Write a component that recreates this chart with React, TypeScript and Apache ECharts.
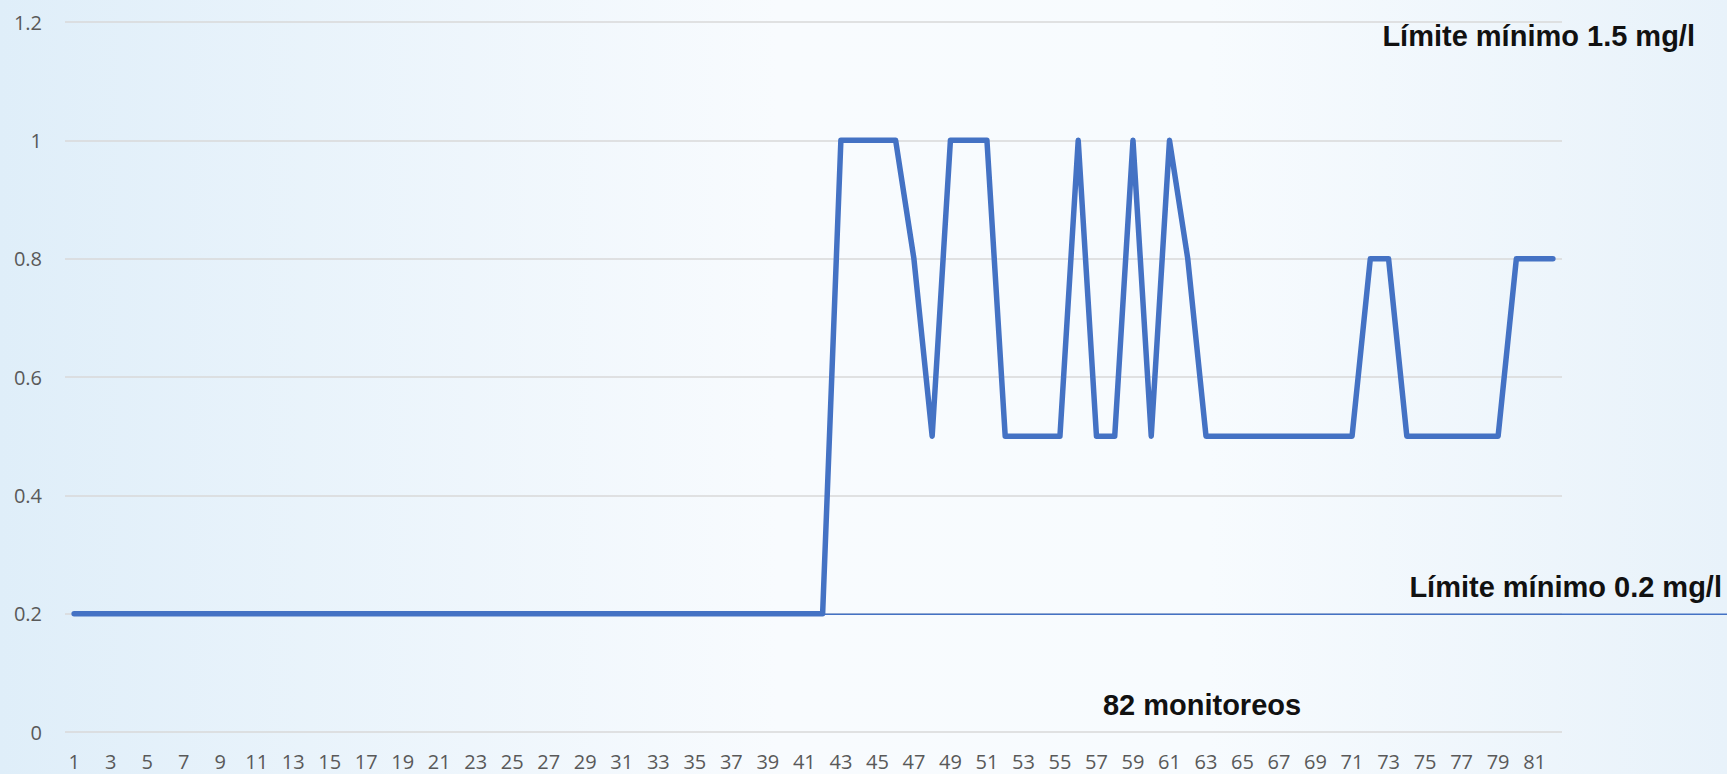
import React, { useEffect, useRef } from "react";
import * as echarts from "echarts";

const categories: string[] = [
  "1","2","3","4","5","6","7","8","9","10",
  "11","12","13","14","15","16","17","18","19","20",
  "21","22","23","24","25","26","27","28","29","30",
  "31","32","33","34","35","36","37","38","39","40",
  "41","42","43","44","45","46","47","48","49","50",
  "51","52","53","54","55","56","57","58","59","60",
  "61","62","63","64","65","66","67","68","69","70",
  "71","72","73","74","75","76","77","78","79","80",
  "81","82",
];

const values: number[] = [
  0.2,0.2,0.2,0.2,0.2,0.2,0.2,0.2,0.2,0.2,
  0.2,0.2,0.2,0.2,0.2,0.2,0.2,0.2,0.2,0.2,
  0.2,0.2,0.2,0.2,0.2,0.2,0.2,0.2,0.2,0.2,
  0.2,0.2,0.2,0.2,0.2,0.2,0.2,0.2,0.2,0.2,
  0.2,0.2,1,1,1,1,0.8,0.5,1,1,
  1,0.5,0.5,0.5,0.5,1,0.5,0.5,1,0.5,
  1,0.8,0.5,0.5,0.5,0.5,0.5,0.5,0.5,0.5,
  0.5,0.8,0.8,0.5,0.5,0.5,0.5,0.5,0.5,0.8,
  0.8,0.8,
];

const minLimit = 0.2;
const yTicks = { min: 0, max: 1.2, interval: 0.2 };
const noteTop = "Límite mínimo 1.5 mg/l";
const noteLimit = "Límite mínimo 0.2 mg/l";
const noteCount = "82 monitoreos";

export default function App() {
  const ref = useRef<HTMLDivElement>(null);

  useEffect(() => {
    if (!ref.current) return;
    const chart = echarts.init(ref.current, undefined, { renderer: "svg" });
    const labelFont = '"Open Sans", "DejaVu Sans", sans-serif';
    const noteFont = '"Liberation Sans", Arial, sans-serif';
    chart.setOption({
      animation: false,
      backgroundColor: {
        type: "linear",
        x: 0, y: 0, x2: 1, y2: 0,
        colorStops: [
          { offset: 0, color: "#dfeef9" },
          { offset: 0.45, color: "#f8fbfe" },
          { offset: 0.7, color: "#f7fbfe" },
          { offset: 1, color: "#e8f2fa" },
        ],
      },
      grid: { left: 65, right: 165, top: 22, bottom: 42, containLabel: false },
      xAxis: {
        type: "category",
        data: categories,
        boundaryGap: true,
        axisLine: { show: false },
        axisTick: { show: false },
        axisLabel: {
          interval: 1,
          color: "#595959",
          fontFamily: labelFont,
          fontSize: 20,
          margin: 19,
        },
        splitLine: { show: false },
      },
      yAxis: {
        type: "value",
        min: yTicks.min,
        max: yTicks.max,
        interval: yTicks.interval,
        axisLine: { show: false },
        axisTick: { show: false },
        axisLabel: {
          color: "#595959",
          fontFamily: labelFont,
          fontSize: 20,
          margin: 23,
          formatter: (v: number) => String(Math.round(v * 10) / 10),
        },
        splitLine: { lineStyle: { color: "#d9d9d9", width: 1.5 } },
      },
      series: [
        {
          type: "line",
          data: values,
          symbol: "none",
          lineStyle: { color: "#4472C4", width: 5.5, join: "round", cap: "round" },
          z: 3,
        },
      ],
    });

    const y02 = chart.convertToPixel({ yAxisIndex: 0 }, minLimit) as number;
    const xStart = chart.convertToPixel({ xAxisIndex: 0 }, categories[0]) as number;
    const W = chart.getWidth();

    chart.setOption({
      graphic: [
        {
          type: "line",
          z: 2,
          shape: { x1: xStart, y1: y02 + 0.5, x2: W, y2: y02 + 0.5 },
          style: { stroke: "#4472C4", lineWidth: 1.5 },
        },
        {
          type: "text",
          x: 1695,
          y: 36,
          style: {
            text: noteTop,
            font: `bold 29px ${noteFont}`,
            fill: "#111111",
            align: "right",
            verticalAlign: "middle",
          },
        },
        {
          type: "text",
          x: 1722,
          y: y02 - 27,
          style: {
            text: noteLimit,
            font: `bold 29px ${noteFont}`,
            fill: "#111111",
            align: "right",
            verticalAlign: "middle",
          },
        },
        {
          type: "text",
          x: 1202,
          y: 705,
          style: {
            text: noteCount,
            font: `bold 29px ${noteFont}`,
            fill: "#111111",
            align: "center",
            verticalAlign: "middle",
          },
        },
      ],
    });

    return () => chart.dispose();
  }, []);

  return (
    <div
      ref={ref}
      style={{ position: "fixed", left: 0, top: 0, width: 1727, height: 774 }}
    />
  );
}
